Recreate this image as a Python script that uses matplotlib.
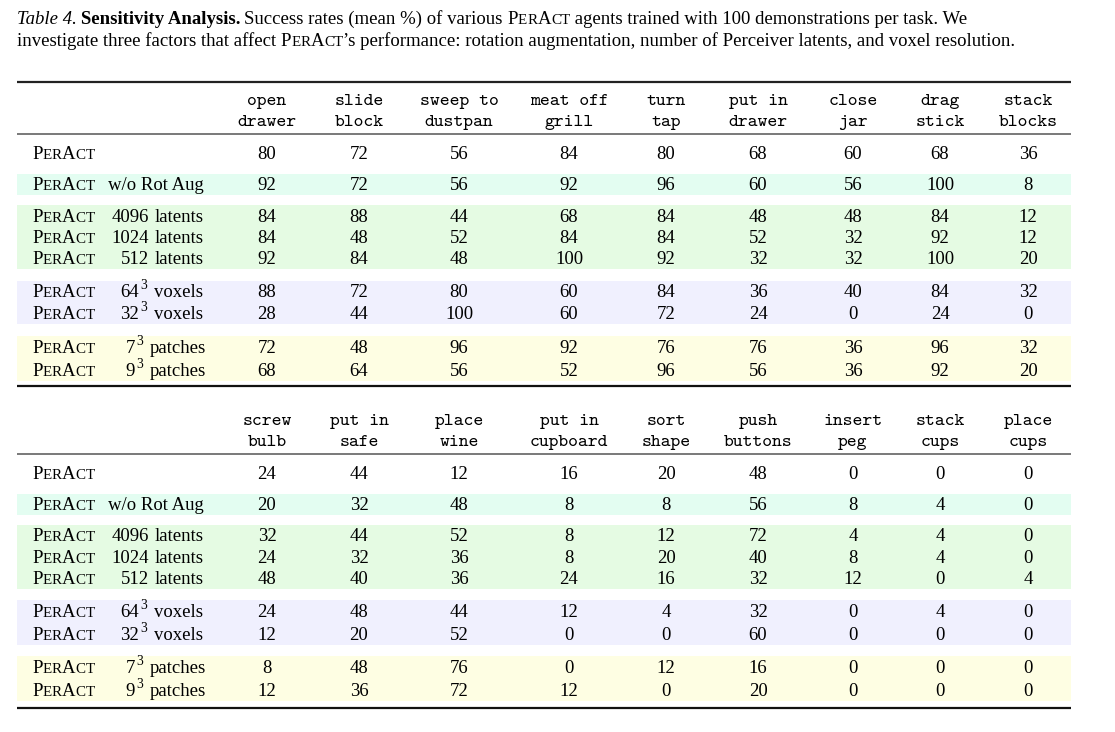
import matplotlib
matplotlib.use("Agg")
import matplotlib.pyplot as plt
from matplotlib.patches import Rectangle

# ---- data ----
tasks_top = ["open\ndrawer", "slide\nblock", "sweep to\ndustpan", "meat off\ngrill", "turn\ntap",
             "put in\ndrawer", "close\njar", "drag\nstick", "stack\nblocks"]
tasks_bot = ["screw\nbulb", "put in\nsafe", "place\nwine", "put in\ncupboard", "sort\nshape",
             "push\nbuttons", "insert\npeg", "stack\ncups", "place\ncups"]

# (setting text, superscript, unit word)
variants = [("", "", ""), ("w/o Rot Aug", "", ""),
            ("4096", "", "latents"), ("1024", "", "latents"), ("512", "", "latents"),
            ("64", "3", "voxels"), ("32", "3", "voxels"),
            ("7", "3", "patches"), ("9", "3", "patches")]

vals_top = [
    [80, 72, 56, 84, 80, 68, 60, 68, 36],
    [92, 72, 56, 92, 96, 60, 56, 100, 8],
    [84, 88, 44, 68, 84, 48, 48, 84, 12],
    [84, 48, 52, 84, 84, 52, 32, 92, 12],
    [92, 84, 48, 100, 92, 32, 32, 100, 20],
    [88, 72, 80, 60, 84, 36, 40, 84, 32],
    [28, 44, 100, 60, 72, 24, 0, 24, 0],
    [72, 48, 96, 92, 76, 76, 36, 96, 32],
    [68, 64, 56, 52, 96, 56, 36, 92, 20],
]
vals_bot = [
    [24, 44, 12, 16, 20, 48, 0, 0, 0],
    [20, 32, 48, 8, 8, 56, 8, 4, 0],
    [32, 44, 52, 8, 12, 72, 4, 4, 0],
    [24, 32, 36, 8, 20, 40, 8, 4, 0],
    [48, 40, 36, 24, 16, 32, 12, 0, 4],
    [24, 48, 44, 12, 4, 32, 0, 4, 0],
    [12, 20, 52, 0, 0, 60, 0, 0, 0],
    [8, 48, 76, 0, 12, 16, 0, 0, 0],
    [12, 36, 72, 12, 0, 20, 0, 0, 0],
]

# ---- layout (pixels) ----
W, H = 1115, 732
SERIF = "Liberation Serif"
FS = 13.5
col_x = [267, 359, 459, 569, 666, 758, 853, 940, 1028]
x0, x1 = 17, 1071
band_colors = ["#e3fdf1", "#e5fbe3", "#f0f0fe", "#fefee3"]
word_x = {"latents": 155, "voxels": 154, "patches": 150}

fig = plt.figure(figsize=(W / 100, H / 100), dpi=100)
ax = fig.add_axes([0, 0, 1, 1])
ax.set_xlim(0, W); ax.set_ylim(H, 0); ax.axis("off")
rend = fig.canvas.get_renderer()


def width(s, fs, **kw):
    t = ax.text(0, 0, s, fontsize=fs, family=SERIF, **kw)
    w = t.get_window_extent(rend).width
    t.remove()
    return w


def put(x, y, s, fs=FS, **kw):
    t = ax.text(x, y, s, va="baseline", ha="left", fontsize=fs, family=SERIF, **kw)
    return x + t.get_window_extent(rend).width


def smallcaps(x, y, word, fs=FS):
    for ch in word:
        if ch.isupper():
            x = put(x, y, ch, fs)
        else:
            x = put(x, y, ch.upper(), fs * 0.8)
    return x


# caption
cy1, cy2 = 24, 46
x = put(17, cy1, "Table 4.", style="italic")
x = put(x + 4, cy1, "Sensitivity Analysis.", weight="bold")
x = put(x + 4, cy1, "Success rates (mean %) of various ")
x = smallcaps(x, cy1, "PerAct")
put(x, cy1, " agents trained with 100 demonstrations per task. We")
x = put(17, cy2, "investigate three factors that affect ")
x = smallcaps(x, cy2, "PerAct")
put(x, cy2, "\u2019s performance: rotation augmentation, number of Perceiver latents, and voxel resolution.")


def label_text(y, var):
    smallcaps(32, y, "PerAct")
    num, sup, word = var
    if not num:
        return
    if not word:
        put(108, y, num)
        return
    wx = word_x[word]
    if sup:
        right = wx - 7
        sw = width(sup, FS * 0.72)
        nw = width(num, FS)
        put(right - sw - nw - 1.5, y, num)
        put(right - sw, y - 8, sup, FS * 0.72)
    else:
        right = wx - 4
        put(right - width(num, FS) - 2, y, num)
    put(wx, y, word)


def draw_table(tasks, vals, y_top, y_head, y_mid, row_y, bands, y_bot):
    if y_top is not None:
        ax.plot([x0, x1], [y_top, y_top], color="#222222", lw=1.6, solid_capstyle="butt")
    ax.plot([x0, x1], [y_mid, y_mid], color="#555555", lw=1.1, solid_capstyle="butt")
    ax.plot([x0, x1], [y_bot, y_bot], color="#111111", lw=1.6, solid_capstyle="butt")
    for c, (ya, yb) in zip(band_colors, bands):
        ax.add_patch(Rectangle((x0, ya), x1 - x0, yb - ya, color=c, lw=0, zorder=0))
    for cx, t in zip(col_x, tasks):
        l1, l2 = t.split("\n")
        ax.text(cx, y_head[0], l1, family="cmtt10", fontsize=FS, ha="center", va="baseline")
        ax.text(cx, y_head[1], l2, family="cmtt10", fontsize=FS, ha="center", va="baseline")
    for i, (ry, var) in enumerate(zip(row_y, variants)):
        label_text(ry, var)
        for cx, v in zip(col_x, vals[i]):
            ax.text(cx, ry, str(v), fontsize=FS, family=SERIF, ha="center", va="baseline")


draw_table(tasks_top, vals_top, 82, (105, 126), 134,
           [159, 190, 222, 243, 264, 297, 319, 353, 376],
           [(174, 195), (205, 269), (281, 324), (336, 381)], 386)
draw_table(tasks_bot, vals_bot, None, (425, 446), 454,
           [479, 510, 541, 563, 584, 617, 640, 673, 696],
           [(494, 515), (525, 589), (600, 645), (656, 701)], 708)

fig.savefig("out.png", dpi=100)
